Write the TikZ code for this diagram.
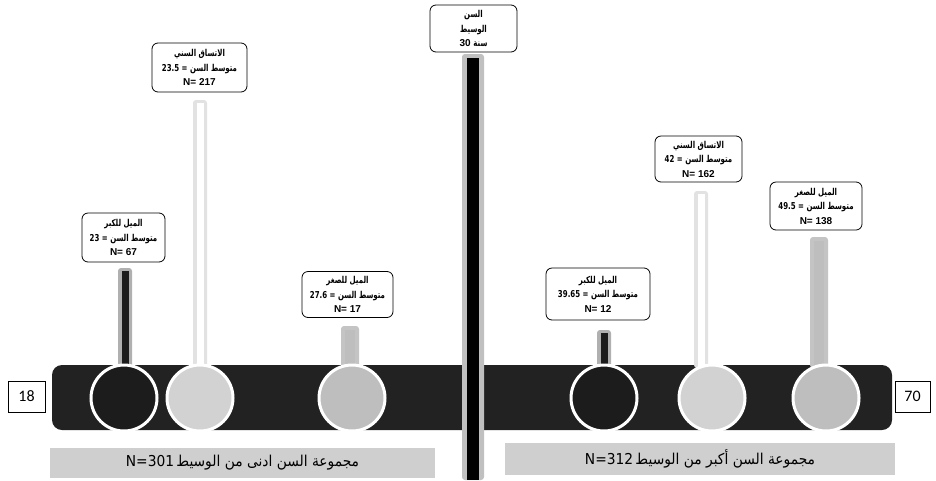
\documentclass[tikz,border=0pt]{standalone}
\usepackage{fontspec}
\usepackage{graphicx}
\setmainfont{Liberation Sans}
\newfontfamily\arabicfont[Script=Arabic]{DejaVu Sans}
\newfontfamily\arabicsmall[Script=Arabic,Scale=0.95]{DejaVu Sans}
\newfontfamily\numfont{Carlito}
\TeXXeTstate=1
\newcommand{\artxt}[1]{\scalebox{0.74}[1]{\arabicsmall\beginR #1\endR}}
\newcommand{\arband}[1]{\scalebox{0.92}[1]{\arabicfont\beginR #1\endR}}
\definecolor{bardark}{HTML}{222222}
\definecolor{circdark}{HTML}{1C1C1C}
\definecolor{circlight}{HTML}{D2D2D2}
\definecolor{circmid}{HTML}{BEBEBE}
\definecolor{halogray}{HTML}{B0B0B0}
\definecolor{halolight}{HTML}{E2E2E2}
\definecolor{bandgray}{HTML}{CFCFCF}
\tikzset{
  infobox/.style={draw=black, line width=0.8pt, rounded corners=6pt, fill=white,
    align=center, inner sep=0pt,
    font=\fontsize{10}{14.5}\selectfont\bfseries},
  endbox/.style={draw=black, line width=0.6pt, fill=white, inner sep=0pt,
    font=\numfont\fontsize{16}{18}\selectfont},
  band/.style={fill=bandgray, draw=none, inner sep=0pt,
    font=\fontsize{15}{17}\selectfont},
  ringcirc/.style={draw=white, line width=3pt, circle, minimum size=66pt, inner sep=0pt}
}
\begin{document}
\begin{tikzpicture}[x=1pt,y=-1pt]
\useasboundingbox[fill=white] (0,0) rectangle (936,480);

% main dark bar
\fill[bardark, rounded corners=10pt] (52,365) rectangle (892,430);

% stems (halo + core)
% stem 1 dark
\fill[halogray, rounded corners=3pt] (118,268) rectangle (132,368);
\fill[circdark] (121.5,271) rectangle (128.5,368);
% stem 2 light
\fill[halolight, rounded corners=3pt] (193,100) rectangle (207,368);
\fill[white] (196.5,103) rectangle (203.5,368);
% stem 3 mid
\fill[halogray!75, rounded corners=3pt] (341,326) rectangle (359,368);
\fill[circmid] (345,330) rectangle (355,368);
% stem 4 dark
\fill[halogray, rounded corners=3pt] (597,330) rectangle (611,368);
\fill[circdark] (600.5,333) rectangle (607.5,368);
% stem 5 light
\fill[halolight, rounded corners=3pt] (694,191) rectangle (708,368);
\fill[white] (697.5,194) rectangle (704.5,368);
% stem 6 mid
\fill[halogray!75, rounded corners=3pt] (810,237) rectangle (828,368);
\fill[circmid] (814,241) rectangle (824,368);

% circles
\node[ringcirc, fill=circdark]  (c1) at (124,398) {};
\node[ringcirc, fill=circlight] (c2) at (200,398) {};
\node[ringcirc, fill=circmid]   (c3) at (352,398) {};
\node[ringcirc, fill=circdark]  (c4) at (604,398) {};
\node[ringcirc, fill=circlight] (c5) at (712,398) {};
\node[ringcirc, fill=circmid]   (c6) at (826,398) {};

% median column
\fill[halogray!80, rounded corners=3pt] (462,54) rectangle (484,480);
\fill[black] (467,58) rectangle (479,480);

% info boxes
\node[infobox, minimum width=83pt, minimum height=49pt] (b1) at (123.5,237.5)
  {\artxt{الميل للكبر}\\\artxt{متوسط السن = 23}\\N= 67};
\node[infobox, minimum width=95pt, minimum height=49pt] (b2) at (199.5,67.5)
  {\artxt{الاتساق السني}\\\artxt{متوسط السن = 23.5}\\N= 217};
\node[infobox, minimum width=91pt, minimum height=46pt] (b3) at (347.5,294.5)
  {\artxt{الميل للصغر}\\\artxt{متوسط السن = 27.6}\\N= 17};
\node[infobox, minimum width=87pt, minimum height=47pt] (b4) at (473.5,28.5)
  {\artxt{السن}\\\artxt{الوسيط}\\30 \artxt{سنة}};
\node[infobox, minimum width=104pt, minimum height=52pt] (b5) at (598,294)
  {\artxt{الميل للكبر}\\\artxt{متوسط السن = 39.65}\\N= 12};
\node[infobox, minimum width=87pt, minimum height=46pt] (b6) at (698.5,159)
  {\artxt{الاتساق السني}\\\artxt{متوسط السن = 42}\\N= 162};
\node[infobox, minimum width=92pt, minimum height=48pt] (b7) at (816,206)
  {\artxt{الميل للصغر}\\\artxt{متوسط السن = 49.5}\\N= 138};

% end labels
\node[endbox, minimum width=37pt, minimum height=31pt] (e18) at (26.5,396.5) {18};
\node[endbox, minimum width=35pt, minimum height=31pt] (e70) at (912.5,396.5) {70};

% bottom bands
\node[band, minimum width=385pt, minimum height=30pt] (g1) at (242.5,463)
  {\arband{مجموعة السن ادنى من الوسيط\,\beginL N=301\endL}};
\node[band, minimum width=390pt, minimum height=32pt] (g2) at (700,459)
  {\arband{مجموعة السن أكبر من الوسيط\,\beginL N=312\endL}};
\end{tikzpicture}
\end{document}
